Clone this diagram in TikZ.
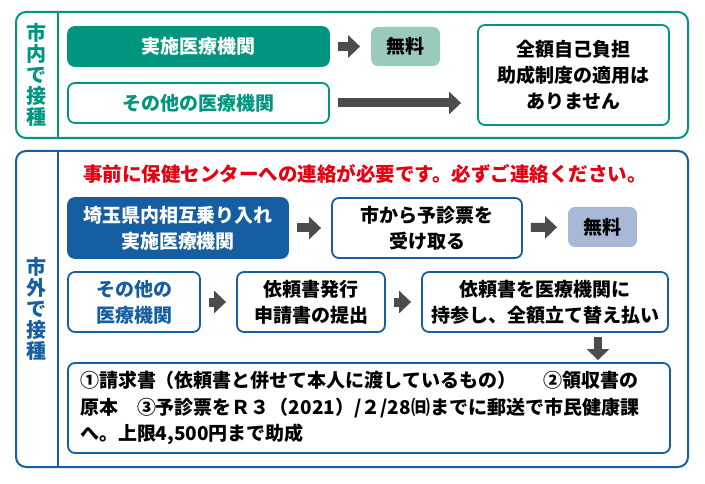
\documentclass[tikz,border=0pt]{standalone}
\usepackage{fontspec}
\setmainfont{Noto Sans CJK JP}[BoldFont={Noto Sans CJK JP Black}]
\usetikzlibrary{arrows.meta}

\begin{document}
\begin{tikzpicture}[x=1pt,y=-1pt,
  box/.style={draw,rounded corners=7pt,line width=1.8pt,fill=white,align=center,inner sep=0pt,font=\bfseries\fontsize{19}{26}\selectfont},
  greenbox/.style={box,draw=kteal},
  bluebox/.style={box,draw=kblue},
  garrow/.style={draw=karrow,line width=9pt,-{Triangle[width=22pt,length=12pt]},shorten <=8pt,shorten >=10pt},
  tatelabel/.style={align=center,inner sep=0pt,font=\bfseries\fontsize{20}{21}\selectfont}]
\definecolor{kteal}{HTML}{00957F}
\definecolor{klteal}{HTML}{99CABD}
\definecolor{kblue}{HTML}{155EA2}
\definecolor{klblue}{HTML}{A8B9D7}
\definecolor{karrow}{HTML}{4D4B4B}
\definecolor{kred}{HTML}{E50012}
\useasboundingbox (0,0) rectangle (705,484);
% frames
\draw[kteal,line width=2pt,rounded corners=10pt] (16,12) rectangle (688,138);
\draw[kteal,line width=2pt] (58,12) -- (58,138);
\draw[kblue,line width=2pt,rounded corners=10pt] (16,151) rectangle (688,467);
\draw[kblue,line width=2pt] (58,151) -- (58,467);
\node[tatelabel,text=kteal] (shinai) at (37,75) {市\\内\\で\\接\\種};
\node[tatelabel,text=kblue] (shigai) at (37,309) {市\\外\\で\\接\\種};
% inside the city
\node[greenbox,fill=kteal,text=white,minimum width=261,minimum height=39] (jisshiA) at (198.5,46.5) {実施医療機関};
\node[box,draw=none,fill=klteal,minimum width=69,minimum height=39] (muryoA) at (405.5,46.5) {無料};
\node[greenbox,text=kteal,minimum width=261,minimum height=40] (sonotaA) at (198.5,103) {その他の医療機関};
\node[greenbox,minimum width=191,minimum height=100] (jikoA) at (573.5,75) {全額自己負担\\助成制度の適用は\\ありません};
\draw[garrow] (jisshiA) -- (muryoA);
\draw[garrow,shorten >=16pt] (sonotaA.east) -- (sonotaA.east -| jikoA.west);
% outside the city
\node[text=kred,font=\bfseries\fontsize{19.5}{24}\selectfont] (chui) at (365,174) {事前に保健センターへの連絡が必要です。必ずご連絡ください。};
\node[bluebox,fill=kblue,text=white,minimum width=220,minimum height=60] (saitama) at (178,228) {埼玉県内相互乗り入れ\\実施医療機関};
\node[bluebox,minimum width=190,minimum height=60] (yoshin) at (427,228) {市から予診票を\\受け取る};
\node[box,draw=none,fill=klblue,minimum width=69,minimum height=40] (muryoB) at (602.5,227) {無料};
\node[bluebox,text=kblue,minimum width=132,minimum height=60] (sonotaB) at (134,302) {その他の\\医療機関};
\node[bluebox,minimum width=148,minimum height=60] (hakko) at (311,302) {依頼書発行\\申請書の提出};
\node[bluebox,minimum width=246,minimum height=60] (jisan) at (545,302) {依頼書を医療機関に\\持参し、全額立て替え払い};
\node[bluebox,align=left,text width=578,minimum width=602,minimum height=90,font=\bfseries\fontsize{19}{26.5}\selectfont] (seikyu) at (369,408)
  {①請求書（依頼書と併せて本人に渡しているもの）\hspace{1.4em}②領収書の\\
   原本\hspace{1em}③予診票をＲ３（2021）/２/28㈰までに郵送で市民健康課\\
   へ。上限4,500円まで助成};
\foreach \a/\b in {saitama/yoshin,yoshin/muryoB,sonotaB/hakko,hakko/jisan}
  {\draw[garrow] (\a) -- (\b);}
\draw[garrow,line width=8pt,-{Triangle[width=22pt,length=11pt]},shorten <=4pt,shorten >=2pt] ([xshift=53pt]jisan.south) -- ([xshift=53pt]jisan.south |- seikyu.north);
\end{tikzpicture}
\end{document}
